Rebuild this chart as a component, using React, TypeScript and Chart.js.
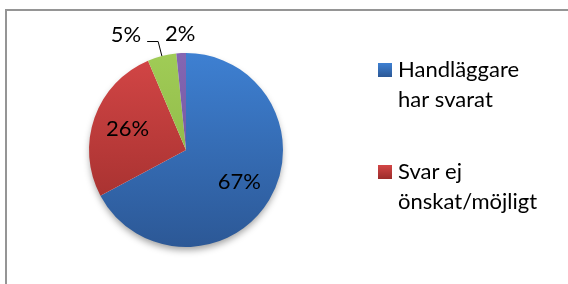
import React, { useEffect, useRef } from "react";
import { Chart, registerables } from "chart.js";

Chart.register(...registerables);

const categories = ["Handläggare har svarat", "Svar ej önskat/möjligt", "Ej aktuellt", "Övrigt"];
const values = [67.2, 26.4, 4.8, 1.6];
const topColors = ["#3e80d2", "#d34646", "#a0cc56", "#8466b2"];
const bottomColors = ["#2c5896", "#9b2c2a", "#86ad41", "#6a4f96"];
const outsideLeader = [false, false, true, false];

const FONT = "Lato, 'Open Sans', sans-serif";
const LABEL_SIZE = 22;

function wrapText(ctx: CanvasRenderingContext2D, text: string, maxW: number): string[] {
  const words = text.split(" ");
  const lines: string[] = [];
  let cur = "";
  for (const w of words) {
    const test = cur ? cur + " " + w : w;
    if (cur && ctx.measureText(test).width > maxW) {
      lines.push(cur);
      cur = w;
    } else cur = test;
  }
  if (cur) lines.push(cur);
  return lines;
}

export default function App() {
  const ref = useRef<HTMLCanvasElement>(null);
  useEffect(() => {
    if (!ref.current) return;
    const total = values.reduce((a, b) => a + b, 0);

    const pieGradient = (ctx: any, i: number) => {
      const chart = ctx.chart;
      const area = chart.chartArea;
      if (!area) return topColors[i];
      const g = chart.ctx.createLinearGradient(0, area.top, 0, area.bottom);
      g.addColorStop(0, topColors[i]);
      g.addColorStop(1, bottomColors[i]);
      return g;
    };

    const framePlugin = {
      id: "frame",
      beforeDraw(chart: any) {
        const c = chart.ctx;
        c.save();
        c.fillStyle = "#ffffff";
        c.fillRect(0, 0, chart.width, chart.height);
        c.strokeStyle = "#959595";
        c.lineWidth = 2;
        c.strokeRect(6, 10, chart.width + 20, chart.height + 20);
        c.restore();
      },
      beforeDatasetsDraw(chart: any) {
        const arc = chart.getDatasetMeta(0).data[0];
        if (!arc) return;
        const c = chart.ctx;
        c.save();
        c.shadowColor = "rgba(0,0,0,0.38)";
        c.shadowBlur = 7;
        c.shadowOffsetY = 4;
        c.fillStyle = "#ffffff";
        c.beginPath();
        c.arc(arc.x, arc.y, arc.outerRadius - 1, 0, Math.PI * 2);
        c.fill();
        c.restore();
      },
      afterDatasetsDraw(chart: any) {
        const c = chart.ctx;
        const meta = chart.getDatasetMeta(0);
        c.save();
        c.font = `${LABEL_SIZE}px ${FONT}`;
        c.fillStyle = "#000000";
        c.strokeStyle = "#000000";
        c.lineWidth = 1;
        meta.data.forEach((arc: any, i: number) => {
          const { x, y, startAngle, endAngle, outerRadius } = arc;
          const mid = (startAngle + endAngle) / 2;
          const cs = Math.cos(mid);
          const sn = Math.sin(mid);
          const frac = values[i] / total;
          const txt = Math.round(frac * 100) + "%";
          c.textBaseline = "middle";
          if (frac > 0.1) {
            c.textAlign = "center";
            c.fillText(txt, x + cs * outerRadius * 0.64, y + sn * outerRadius * 0.64);
          } else if (outsideLeader[i]) {
            const ex = x + cs * outerRadius, ey = y + sn * outerRadius;
            const bx = x + cs * (outerRadius + 15), by = y + sn * (outerRadius + 15);
            const hx = bx - 11;
            c.beginPath();
            c.moveTo(ex, ey);
            c.lineTo(bx, by);
            c.lineTo(hx, by);
            c.stroke();
            c.textAlign = "right";
            c.fillText(txt, hx - 6, by - 7);
          } else {
            c.textAlign = "center";
            c.fillText(txt, x + cs * (outerRadius + 19), y + sn * (outerRadius + 19));
          }
        });
        c.restore();
      },
      afterDraw(chart: any) {
        const c = chart.ctx;
        c.save();
        c.font = `${LABEL_SIZE}px ${FONT}`;
        c.textBaseline = "alphabetic";
        c.textAlign = "left";
        const boxX = 378, box = 14, textX = 398;
        const lineH = 29.5, entryGap = 72.5;
        let base = 77;
        for (let i = 0; i < categories.length; i++) {
          const lines = wrapText(c, categories[i], 155);
          const bottom = base + (lines.length - 1) * lineH;
          if (bottom > 230) break;
          const g = c.createLinearGradient(0, base - box, 0, base);
          g.addColorStop(0, topColors[i]);
          g.addColorStop(1, bottomColors[i]);
          c.fillStyle = g;
          c.fillRect(boxX, base - box, box, box);
          c.fillStyle = "#000000";
          lines.forEach((ln, k) => c.fillText(ln, textX, base + k * lineH));
          base = bottom + entryGap;
        }
        c.restore();
      },
    };

    const chart = new Chart(ref.current, {
      type: "pie",
      data: {
        labels: categories,
        datasets: [
          {
            data: values,
            backgroundColor: (ctx: any) => pieGradient(ctx, ctx.dataIndex),
            borderWidth: 0,
          },
        ],
      },
      options: {
        responsive: false,
        animation: false,
        layout: { padding: { left: 89, right: 285, top: 53, bottom: 37 } },
        plugins: { legend: { display: false }, tooltip: { enabled: false } },
      },
      plugins: [framePlugin],
    });
    return () => chart.destroy();
  }, []);

  return (
    <div style={{ position: "absolute", left: 0, top: 0, width: 568, height: 284, background: "#fff" }}>
      <canvas ref={ref} width={568} height={284} style={{ display: "block", width: 568, height: 284 }} />
    </div>
  );
}
